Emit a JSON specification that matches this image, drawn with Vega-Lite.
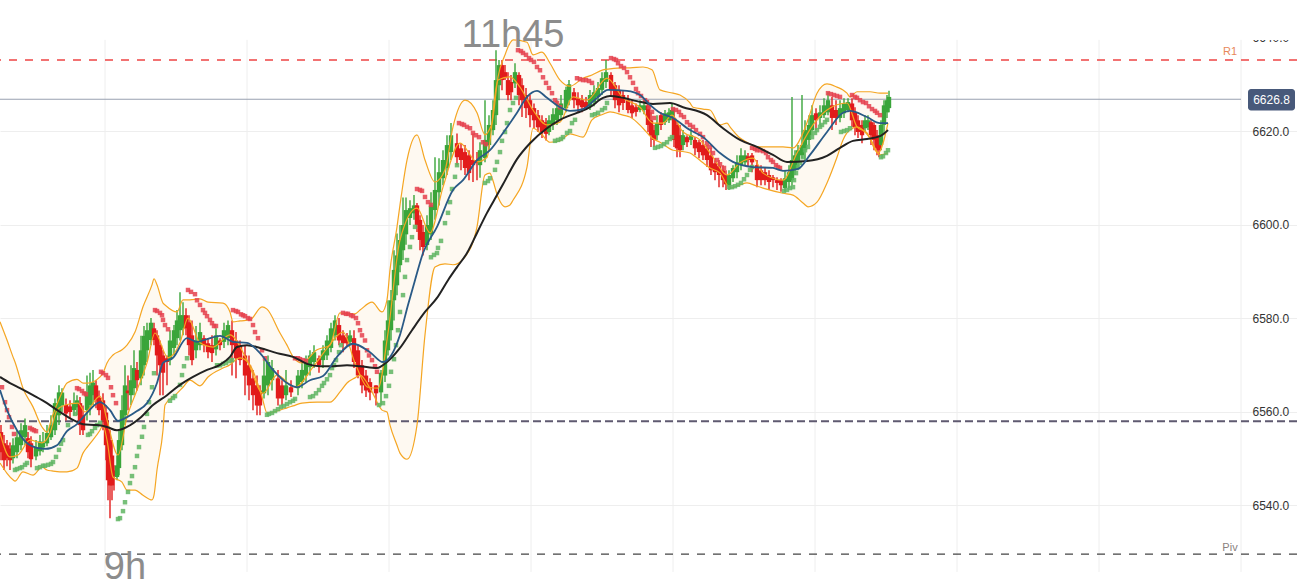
{"$schema":"https://vega.github.io/schema/vega-lite/v6.json","width":1297,"height":587,"autosize":{"type":"none"},"padding":0,"background":"white","config":{"view":{"stroke":null}},
"datasets":{
"mask":[{"a":0,"b":1297,"p":6648.03,"q":6639.47}],
"vgrid":[{"t":105},{"t":247},{"t":389},{"t":531},{"t":673},{"t":815},{"t":957},{"t":1099},{"t":1241}],
"band":[{"t":0,"u":6579.2,"l":6549.0},{"t":7,"u":6575.3,"l":6546.8},{"t":13,"u":6571.7,"l":6545.4},{"t":15,"u":6570.6,"l":6545.1},{"t":23,"u":6565.0,"l":6547.1},{"t":33,"u":6561.0,"l":6546.4},{"t":42,"u":6556.7,"l":6548.1},{"t":47,"u":6555.6,"l":6547.5},{"t":52,"u":6558.8,"l":6547.3},{"t":60,"u":6563.1,"l":6547.1},{"t":67,"u":6566.1,"l":6547.1},{"t":77,"u":6566.9,"l":6547.9},{"t":83,"u":6566.1,"l":6551.1},{"t":88,"u":6566.1,"l":6552.6},{"t":100,"u":6567.4,"l":6556.0},{"t":103,"u":6568.2,"l":6557.1},{"t":107,"u":6570.4,"l":6553.9},{"t":113,"u":6572.1,"l":6546.0},{"t":122,"u":6573.2,"l":6544.9},{"t":127,"u":6574.2,"l":6543.2},{"t":135,"u":6577.0,"l":6543.2},{"t":143,"u":6582.4,"l":6542.1},{"t":152,"u":6587.1,"l":6541.1},{"t":154,"u":6588.4,"l":6542.1},{"t":157,"u":6587.1,"l":6547.5},{"t":163,"u":6583.2,"l":6556.0},{"t":165,"u":6582.8,"l":6561.4},{"t":177,"u":6581.3,"l":6563.9},{"t":183,"u":6583.9,"l":6565.2},{"t":190,"u":6583.9,"l":6566.7},{"t":200,"u":6584.1,"l":6565.5},{"t":208,"u":6583.4,"l":6567.4},{"t":223,"u":6583.2,"l":6569.3},{"t":230,"u":6581.3,"l":6570.0},{"t":233,"u":6579.2,"l":6570.6},{"t":240,"u":6579.4,"l":6571.5},{"t":250,"u":6579.6,"l":6570.0},{"t":262,"u":6582.4,"l":6563.1},{"t":267,"u":6581.9,"l":6559.7},{"t":280,"u":6576.8,"l":6560.3},{"t":287,"u":6574.2,"l":6560.8},{"t":293,"u":6571.7,"l":6561.2},{"t":302,"u":6570.4,"l":6561.8},{"t":317,"u":6573.2,"l":6562.0},{"t":330,"u":6574.2,"l":6562.0},{"t":340,"u":6581.1,"l":6564.2},{"t":347,"u":6580.9,"l":6566.1},{"t":355,"u":6580.9,"l":6567.2},{"t":360,"u":6581.7,"l":6567.8},{"t":372,"u":6583.4,"l":6564.2},{"t":382,"u":6581.3,"l":6560.3},{"t":387,"u":6583.9,"l":6559.9},{"t":390,"u":6590.3,"l":6557.1},{"t":397,"u":6599.5,"l":6552.8},{"t":400,"u":6604.2,"l":6551.1},{"t":407,"u":6613.8,"l":6549.8},{"t":417,"u":6619.2,"l":6557.1},{"t":425,"u":6613.8,"l":6576.4},{"t":435,"u":6609.1,"l":6590.9},{"t":445,"u":6611.7,"l":6591.6},{"t":453,"u":6620.9,"l":6591.4},{"t":465,"u":6626.6,"l":6593.1},{"t":477,"u":6623.9,"l":6599.5},{"t":485,"u":6619.2,"l":6610.6},{"t":490,"u":6620.6,"l":6611.0},{"t":492,"u":6621.7,"l":6610.0},{"t":498,"u":6631.6,"l":6605.9},{"t":505,"u":6636.3,"l":6603.8},{"t":510,"u":6638.8,"l":6604.2},{"t":513,"u":6639.5,"l":6605.2},{"t":527,"u":6639.0,"l":6612.3},{"t":533,"u":6636.3,"l":6620.6},{"t":542,"u":6636.9,"l":6619.2},{"t":550,"u":6634.5,"l":6617.6},{"t":560,"u":6630.9,"l":6617.9},{"t":570,"u":6629.6,"l":6619.4},{"t":583,"u":6631.3,"l":6618.7},{"t":592,"u":6632.0,"l":6622.4},{"t":603,"u":6633.1,"l":6623.6},{"t":610,"u":6633.3,"l":6624.1},{"t":623,"u":6633.5,"l":6623.4},{"t":630,"u":6633.5,"l":6623.0},{"t":643,"u":6633.7,"l":6620.6},{"t":652,"u":6633.1,"l":6618.5},{"t":660,"u":6628.8,"l":6617.6},{"t":673,"u":6628.1,"l":6615.9},{"t":680,"u":6627.7,"l":6615.7},{"t":690,"u":6626.0,"l":6615.3},{"t":693,"u":6625.1,"l":6614.9},{"t":703,"u":6624.7,"l":6613.2},{"t":710,"u":6624.5,"l":6612.1},{"t":720,"u":6621.3,"l":6611.0},{"t":727,"u":6621.7,"l":6608.5},{"t":730,"u":6620.9,"l":6607.8},{"t":740,"u":6618.5,"l":6608.5},{"t":747,"u":6617.6,"l":6608.9},{"t":757,"u":6616.6,"l":6608.2},{"t":763,"u":6616.6,"l":6607.8},{"t":783,"u":6616.6,"l":6606.7},{"t":793,"u":6616.4,"l":6606.3},{"t":803,"u":6619.6,"l":6604.6},{"t":808,"u":6622.4,"l":6603.8},{"t":817,"u":6628.1,"l":6604.8},{"t":827,"u":6630.1,"l":6608.9},{"t":837,"u":6629.4,"l":6614.4},{"t":843,"u":6628.8,"l":6618.1},{"t":847,"u":6628.1,"l":6619.6},{"t":850,"u":6627.3,"l":6620.2},{"t":857,"u":6628.4,"l":6620.9},{"t":870,"u":6628.4,"l":6618.5},{"t":880,"u":6628.1,"l":6614.9},{"t":888,"u":6628.1,"l":6615.3}],
"mid":[{"t":0,"v":6555.4},{"t":10,"v":6550.3},{"t":18,"v":6550.7},{"t":30,"v":6553.9},{"t":42,"v":6553.3},{"t":50,"v":6555.4},{"t":57,"v":6560.3},{"t":65,"v":6561.4},{"t":78,"v":6561.8},{"t":85,"v":6559.9},{"t":100,"v":6563.3},{"t":107,"v":6558.2},{"t":118,"v":6550.7},{"t":127,"v":6558.8},{"t":137,"v":6564.6},{"t":147,"v":6570.4},{"t":155,"v":6576.8},{"t":168,"v":6571.5},{"t":180,"v":6574.7},{"t":188,"v":6580.0},{"t":200,"v":6574.7},{"t":213,"v":6573.8},{"t":230,"v":6576.4},{"t":247,"v":6571.0},{"t":263,"v":6563.9},{"t":277,"v":6567.8},{"t":295,"v":6565.2},{"t":313,"v":6569.5},{"t":328,"v":6573.8},{"t":343,"v":6577.0},{"t":355,"v":6570.4},{"t":368,"v":6565.2},{"t":378,"v":6565.0},{"t":388,"v":6576.8},{"t":400,"v":6596.7},{"t":417,"v":6603.5},{"t":430,"v":6598.2},{"t":443,"v":6608.0},{"t":460,"v":6617.4},{"t":477,"v":6613.4},{"t":487,"v":6614.4},{"t":498,"v":6630.9},{"t":510,"v":6631.6},{"t":520,"v":6629.4},{"t":533,"v":6624.5},{"t":547,"v":6621.3},{"t":560,"v":6621.9},{"t":573,"v":6627.3},{"t":587,"v":6626.6},{"t":607,"v":6631.3},{"t":623,"v":6627.1},{"t":640,"v":6625.1},{"t":653,"v":6621.7},{"t":663,"v":6621.7},{"t":672,"v":6623.4},{"t":683,"v":6619.8},{"t":700,"v":6618.1},{"t":713,"v":6614.4},{"t":727,"v":6610.6},{"t":740,"v":6613.2},{"t":753,"v":6614.2},{"t":763,"v":6611.0},{"t":783,"v":6609.5},{"t":797,"v":6615.3},{"t":813,"v":6621.3},{"t":827,"v":6624.5},{"t":847,"v":6626.0},{"t":857,"v":6620.9},{"t":867,"v":6619.6},{"t":878,"v":6615.3},{"t":888,"v":6621.7}],
"blue":[{"t":0,"v":6564.6},{"t":7,"v":6560.3},{"t":17,"v":6556.0},{"t":30,"v":6552.8},{"t":45,"v":6552.0},{"t":57,"v":6552.8},{"t":67,"v":6555.8},{"t":77,"v":6557.3},{"t":87,"v":6559.7},{"t":100,"v":6562.0},{"t":110,"v":6560.3},{"t":118,"v":6558.0},{"t":127,"v":6558.8},{"t":137,"v":6560.1},{"t":147,"v":6561.8},{"t":157,"v":6566.1},{"t":163,"v":6570.4},{"t":173,"v":6571.5},{"t":187,"v":6575.7},{"t":197,"v":6574.9},{"t":207,"v":6575.5},{"t":220,"v":6576.2},{"t":233,"v":6574.9},{"t":247,"v":6574.7},{"t":260,"v":6572.5},{"t":273,"v":6568.9},{"t":287,"v":6566.1},{"t":297,"v":6565.2},{"t":310,"v":6566.7},{"t":323,"v":6567.6},{"t":337,"v":6571.7},{"t":353,"v":6574.5},{"t":370,"v":6572.7},{"t":383,"v":6570.6},{"t":400,"v":6576.4},{"t":408,"v":6582.8},{"t":415,"v":6588.1},{"t":423,"v":6593.9},{"t":437,"v":6599.5},{"t":453,"v":6607.4},{"t":463,"v":6609.5},{"t":477,"v":6613.8},{"t":490,"v":6615.9},{"t":503,"v":6619.6},{"t":517,"v":6623.9},{"t":527,"v":6627.3},{"t":537,"v":6628.6},{"t":547,"v":6627.1},{"t":560,"v":6625.1},{"t":570,"v":6624.3},{"t":583,"v":6624.7},{"t":597,"v":6627.1},{"t":608,"v":6628.8},{"t":627,"v":6628.6},{"t":640,"v":6627.7},{"t":650,"v":6625.6},{"t":660,"v":6623.9},{"t":673,"v":6622.8},{"t":690,"v":6620.2},{"t":703,"v":6618.7},{"t":720,"v":6615.3},{"t":733,"v":6613.4},{"t":753,"v":6612.3},{"t":773,"v":6612.1},{"t":783,"v":6611.5},{"t":798,"v":6611.9},{"t":810,"v":6614.9},{"t":827,"v":6619.8},{"t":843,"v":6623.9},{"t":850,"v":6624.3},{"t":867,"v":6623.0},{"t":880,"v":6621.7},{"t":888,"v":6621.7}],
"black":[{"t":0,"v":6567.4},{"t":10,"v":6566.1},{"t":20,"v":6565.0},{"t":33,"v":6563.5},{"t":47,"v":6561.8},{"t":60,"v":6559.9},{"t":73,"v":6558.2},{"t":83,"v":6557.3},{"t":97,"v":6557.1},{"t":107,"v":6556.7},{"t":117,"v":6556.0},{"t":127,"v":6556.7},{"t":140,"v":6558.6},{"t":153,"v":6561.4},{"t":167,"v":6563.5},{"t":180,"v":6565.7},{"t":193,"v":6567.4},{"t":207,"v":6568.9},{"t":220,"v":6570.0},{"t":230,"v":6571.7},{"t":237,"v":6573.8},{"t":247,"v":6574.2},{"t":260,"v":6573.6},{"t":277,"v":6572.5},{"t":293,"v":6571.7},{"t":307,"v":6570.2},{"t":320,"v":6569.7},{"t":333,"v":6569.7},{"t":347,"v":6569.9},{"t":360,"v":6569.7},{"t":377,"v":6569.3},{"t":387,"v":6570.6},{"t":400,"v":6573.6},{"t":412,"v":6577.4},{"t":425,"v":6581.3},{"t":437,"v":6584.3},{"t":448,"v":6588.1},{"t":457,"v":6590.9},{"t":467,"v":6593.9},{"t":477,"v":6598.2},{"t":487,"v":6602.5},{"t":497,"v":6606.3},{"t":503,"v":6608.6},{"t":517,"v":6614.0},{"t":530,"v":6617.4},{"t":547,"v":6620.6},{"t":560,"v":6622.4},{"t":577,"v":6623.9},{"t":590,"v":6625.1},{"t":603,"v":6627.1},{"t":610,"v":6627.5},{"t":623,"v":6627.1},{"t":637,"v":6626.4},{"t":653,"v":6625.8},{"t":670,"v":6626.0},{"t":683,"v":6625.1},{"t":707,"v":6623.4},{"t":723,"v":6620.6},{"t":740,"v":6618.1},{"t":757,"v":6616.6},{"t":773,"v":6614.9},{"t":787,"v":6613.4},{"t":807,"v":6613.6},{"t":827,"v":6614.7},{"t":840,"v":6616.4},{"t":853,"v":6617.9},{"t":867,"v":6618.3},{"t":880,"v":6618.9},{"t":888,"v":6620.2}],
"sarRed":[{"t":2,"v":6565.2},{"t":5,"v":6562.0},{"t":7,"v":6560.3},{"t":9,"v":6558.8},{"t":12,"v":6556.7},{"t":14,"v":6555.2},{"t":30,"v":6556.5},{"t":32,"v":6556.2},{"t":34,"v":6556.0},{"t":36,"v":6555.8},{"t":77,"v":6565.0},{"t":79,"v":6564.8},{"t":82,"v":6564.4},{"t":84,"v":6563.9},{"t":86,"v":6563.7},{"t":101,"v":6568.5},{"t":103,"v":6568.2},{"t":106,"v":6567.8},{"t":108,"v":6567.2},{"t":111,"v":6565.2},{"t":113,"v":6563.5},{"t":116,"v":6561.8},{"t":155,"v":6581.7},{"t":157,"v":6581.5},{"t":160,"v":6581.1},{"t":162,"v":6580.6},{"t":163,"v":6579.6},{"t":165,"v":6578.5},{"t":168,"v":6577.6},{"t":188,"v":6586.0},{"t":191,"v":6585.6},{"t":195,"v":6585.1},{"t":197,"v":6583.8},{"t":200,"v":6582.8},{"t":203,"v":6581.7},{"t":205,"v":6581.1},{"t":207,"v":6580.4},{"t":210,"v":6579.6},{"t":212,"v":6578.9},{"t":214,"v":6578.3},{"t":216,"v":6578.3},{"t":233,"v":6581.7},{"t":236,"v":6581.5},{"t":238,"v":6581.3},{"t":241,"v":6580.8},{"t":243,"v":6580.6},{"t":245,"v":6580.4},{"t":248,"v":6580.0},{"t":250,"v":6579.8},{"t":253,"v":6578.5},{"t":255,"v":6577.0},{"t":258,"v":6575.7},{"t":262,"v":6573.1},{"t":265,"v":6571.4},{"t":295,"v":6571.4},{"t":298,"v":6571.4},{"t":300,"v":6571.2},{"t":303,"v":6571.0},{"t":306,"v":6570.8},{"t":343,"v":6581.1},{"t":346,"v":6580.9},{"t":348,"v":6580.9},{"t":351,"v":6580.6},{"t":353,"v":6580.4},{"t":356,"v":6580.0},{"t":358,"v":6578.9},{"t":360,"v":6577.4},{"t":362,"v":6576.3},{"t":365,"v":6575.2},{"t":367,"v":6573.1},{"t":369,"v":6572.0},{"t":372,"v":6571.0},{"t":375,"v":6569.7},{"t":377,"v":6568.5},{"t":417,"v":6607.6},{"t":420,"v":6607.4},{"t":422,"v":6607.2},{"t":425,"v":6605.9},{"t":428,"v":6604.8},{"t":431,"v":6604.2},{"t":459,"v":6621.7},{"t":462,"v":6621.5},{"t":464,"v":6621.3},{"t":467,"v":6620.9},{"t":470,"v":6620.6},{"t":473,"v":6619.6},{"t":476,"v":6619.1},{"t":479,"v":6618.7},{"t":483,"v":6617.6},{"t":486,"v":6617.2},{"t":518,"v":6637.3},{"t":521,"v":6637.1},{"t":523,"v":6636.7},{"t":526,"v":6636.3},{"t":529,"v":6635.6},{"t":531,"v":6635.2},{"t":534,"v":6634.8},{"t":537,"v":6633.7},{"t":540,"v":6633.0},{"t":543,"v":6631.5},{"t":546,"v":6630.3},{"t":549,"v":6629.2},{"t":552,"v":6628.1},{"t":555,"v":6626.6},{"t":557,"v":6626.0},{"t":560,"v":6625.1},{"t":577,"v":6631.3},{"t":580,"v":6631.1},{"t":583,"v":6630.9},{"t":586,"v":6630.9},{"t":589,"v":6630.7},{"t":592,"v":6630.3},{"t":611,"v":6635.6},{"t":614,"v":6635.4},{"t":616,"v":6635.2},{"t":618,"v":6634.5},{"t":621,"v":6633.9},{"t":624,"v":6633.5},{"t":627,"v":6632.6},{"t":630,"v":6631.5},{"t":633,"v":6630.3},{"t":636,"v":6629.0},{"t":638,"v":6628.1},{"t":641,"v":6627.5},{"t":645,"v":6626.6},{"t":647,"v":6626.2},{"t":649,"v":6625.1},{"t":652,"v":6624.1},{"t":654,"v":6622.8},{"t":673,"v":6624.7},{"t":676,"v":6624.5},{"t":679,"v":6624.1},{"t":681,"v":6623.4},{"t":684,"v":6623.0},{"t":687,"v":6621.9},{"t":690,"v":6621.3},{"t":693,"v":6620.9},{"t":696,"v":6620.2},{"t":700,"v":6619.4},{"t":703,"v":6618.7},{"t":707,"v":6617.4},{"t":710,"v":6616.6},{"t":713,"v":6615.3},{"t":717,"v":6613.8},{"t":720,"v":6612.9},{"t":724,"v":6612.1},{"t":752,"v":6616.4},{"t":755,"v":6616.2},{"t":757,"v":6615.9},{"t":760,"v":6615.9},{"t":763,"v":6615.7},{"t":766,"v":6615.3},{"t":768,"v":6614.4},{"t":771,"v":6613.8},{"t":773,"v":6613.4},{"t":776,"v":6612.7},{"t":778,"v":6612.3},{"t":780,"v":6612.1},{"t":828,"v":6628.1},{"t":831,"v":6627.9},{"t":834,"v":6627.7},{"t":837,"v":6627.5},{"t":840,"v":6627.3},{"t":852,"v":6627.7},{"t":855,"v":6627.3},{"t":857,"v":6627.1},{"t":860,"v":6626.6},{"t":863,"v":6626.2},{"t":866,"v":6626.0},{"t":869,"v":6625.3},{"t":872,"v":6624.7},{"t":875,"v":6624.3},{"t":877,"v":6623.9},{"t":880,"v":6623.4}],
"sarGreen":[{"t":15,"v":6547.5},{"t":17,"v":6547.7},{"t":20,"v":6547.9},{"t":22,"v":6548.1},{"t":25,"v":6548.6},{"t":27,"v":6549.0},{"t":37,"v":6547.9},{"t":40,"v":6548.1},{"t":43,"v":6548.4},{"t":45,"v":6548.4},{"t":48,"v":6548.6},{"t":51,"v":6548.8},{"t":53,"v":6549.2},{"t":56,"v":6550.3},{"t":59,"v":6551.8},{"t":61,"v":6553.1},{"t":63,"v":6553.9},{"t":68,"v":6557.1},{"t":75,"v":6559.5},{"t":88,"v":6555.0},{"t":90,"v":6555.2},{"t":92,"v":6555.8},{"t":95,"v":6556.5},{"t":97,"v":6557.1},{"t":100,"v":6557.6},{"t":118,"v":6537.0},{"t":120,"v":6537.2},{"t":123,"v":6538.7},{"t":125,"v":6540.6},{"t":128,"v":6542.8},{"t":130,"v":6544.7},{"t":132,"v":6546.2},{"t":135,"v":6548.1},{"t":137,"v":6550.5},{"t":139,"v":6552.4},{"t":142,"v":6554.6},{"t":144,"v":6556.7},{"t":147,"v":6559.5},{"t":149,"v":6562.0},{"t":152,"v":6565.2},{"t":154,"v":6568.2},{"t":170,"v":6562.3},{"t":173,"v":6562.9},{"t":175,"v":6563.3},{"t":180,"v":6565.7},{"t":182,"v":6567.8},{"t":184,"v":6569.7},{"t":187,"v":6571.4},{"t":217,"v":6569.9},{"t":220,"v":6569.9},{"t":223,"v":6570.2},{"t":226,"v":6570.4},{"t":229,"v":6570.8},{"t":232,"v":6571.0},{"t":267,"v":6559.3},{"t":269,"v":6559.5},{"t":272,"v":6559.7},{"t":275,"v":6560.1},{"t":278,"v":6560.5},{"t":281,"v":6561.0},{"t":284,"v":6561.2},{"t":287,"v":6561.6},{"t":290,"v":6562.0},{"t":293,"v":6562.3},{"t":295,"v":6562.7},{"t":310,"v":6563.1},{"t":313,"v":6563.3},{"t":316,"v":6563.9},{"t":319,"v":6564.6},{"t":322,"v":6565.5},{"t":324,"v":6566.1},{"t":327,"v":6566.9},{"t":330,"v":6567.8},{"t":332,"v":6569.3},{"t":334,"v":6569.9},{"t":336,"v":6571.0},{"t":339,"v":6572.7},{"t":341,"v":6574.2},{"t":379,"v":6561.4},{"t":383,"v":6561.8},{"t":386,"v":6563.3},{"t":389,"v":6565.5},{"t":391,"v":6568.5},{"t":394,"v":6571.2},{"t":396,"v":6574.2},{"t":398,"v":6577.4},{"t":400,"v":6581.3},{"t":403,"v":6584.9},{"t":405,"v":6588.8},{"t":407,"v":6592.4},{"t":410,"v":6595.2},{"t":412,"v":6597.3},{"t":415,"v":6599.5},{"t":431,"v":6593.0},{"t":434,"v":6593.5},{"t":437,"v":6593.9},{"t":438,"v":6595.0},{"t":441,"v":6596.5},{"t":445,"v":6600.3},{"t":448,"v":6602.5},{"t":450,"v":6604.8},{"t":452,"v":6607.6},{"t":455,"v":6610.2},{"t":457,"v":6612.7},{"t":485,"v":6608.9},{"t":488,"v":6609.3},{"t":490,"v":6609.9},{"t":495,"v":6611.7},{"t":497,"v":6613.4},{"t":500,"v":6615.5},{"t":502,"v":6617.9},{"t":505,"v":6619.8},{"t":507,"v":6621.7},{"t":510,"v":6624.5},{"t":513,"v":6626.0},{"t":516,"v":6627.1},{"t":555,"v":6617.9},{"t":558,"v":6618.1},{"t":561,"v":6618.3},{"t":563,"v":6618.7},{"t":567,"v":6619.6},{"t":570,"v":6620.0},{"t":572,"v":6621.7},{"t":575,"v":6622.4},{"t":592,"v":6623.4},{"t":595,"v":6623.6},{"t":598,"v":6623.9},{"t":602,"v":6624.5},{"t":605,"v":6624.9},{"t":607,"v":6626.0},{"t":655,"v":6616.4},{"t":658,"v":6616.6},{"t":661,"v":6616.8},{"t":664,"v":6617.2},{"t":667,"v":6617.6},{"t":670,"v":6618.3},{"t":672,"v":6618.7},{"t":729,"v":6608.0},{"t":732,"v":6608.0},{"t":735,"v":6608.2},{"t":738,"v":6608.5},{"t":741,"v":6608.9},{"t":744,"v":6609.7},{"t":747,"v":6610.6},{"t":750,"v":6611.7},{"t":752,"v":6612.3},{"t":784,"v":6607.2},{"t":787,"v":6607.4},{"t":790,"v":6607.8},{"t":793,"v":6608.0},{"t":794,"v":6609.5},{"t":796,"v":6611.0},{"t":798,"v":6612.3},{"t":800,"v":6613.2},{"t":803,"v":6614.4},{"t":805,"v":6615.9},{"t":808,"v":6616.6},{"t":812,"v":6618.7},{"t":815,"v":6619.6},{"t":817,"v":6620.2},{"t":820,"v":6620.9},{"t":822,"v":6621.3},{"t":825,"v":6621.9},{"t":827,"v":6622.4},{"t":841,"v":6619.8},{"t":844,"v":6620.0},{"t":847,"v":6620.2},{"t":850,"v":6620.6},{"t":881,"v":6614.4},{"t":883,"v":6614.6},{"t":886,"v":6615.3},{"t":888,"v":6615.9}],
"candles":[{"t":1,"d":"d","h":6557.1,"o":6555.6,"c":6551.3,"l":6549.6},{"t":4,"d":"d","h":6555.0,"o":6553.2,"c":6549.6,"l":6547.5},{"t":7,"d":"d","h":6553.9,"o":6552.8,"c":6550.0,"l":6548.3},{"t":10,"d":"d","h":6553.4,"o":6552.1,"c":6549.6,"l":6547.5},{"t":13,"d":"u","h":6554.3,"c":6552.8,"o":6550.0,"l":6548.9},{"t":17,"d":"u","h":6556.0,"c":6554.5,"o":6551.3,"l":6550.0},{"t":21,"d":"u","h":6557.5,"c":6556.0,"o":6552.8,"l":6551.7},{"t":25,"d":"u","h":6558.5,"c":6557.1,"o":6554.5,"l":6552.8},{"t":28,"d":"d","h":6555.6,"o":6554.3,"c":6551.3,"l":6550.0},{"t":31,"d":"d","h":6554.7,"o":6553.2,"c":6549.8,"l":6548.1},{"t":36,"d":"u","h":6553.9,"c":6552.3,"o":6550.4,"l":6549.6},{"t":40,"d":"u","h":6555.0,"c":6553.6,"o":6551.5,"l":6550.6},{"t":43,"d":"u","h":6555.6,"c":6553.4,"o":6552.3,"l":6551.3},{"t":47,"d":"u","h":6557.1,"c":6555.4,"o":6553.2,"l":6552.6},{"t":51,"d":"u","h":6559.2,"c":6557.1,"o":6554.5,"l":6553.9},{"t":55,"d":"u","h":6562.8,"c":6561.8,"o":6556.0,"l":6555.0},{"t":59,"d":"u","h":6565.6,"c":6564.1,"o":6559.2,"l":6557.1},{"t":62,"d":"u","h":6565.0,"c":6564.1,"o":6561.4,"l":6559.9},{"t":66,"d":"d","h":6562.8,"o":6561.4,"c":6559.6,"l":6558.1},{"t":70,"d":"d","h":6562.4,"o":6561.1,"c":6559.9,"l":6558.5},{"t":74,"d":"u","h":6564.1,"c":6561.8,"o":6560.3,"l":6559.2},{"t":77,"d":"u","h":6563.5,"c":6562.4,"o":6560.9,"l":6559.2},{"t":80,"d":"d","h":6563.1,"o":6561.8,"c":6557.1,"l":6555.0},{"t":83,"d":"d","h":6561.3,"o":6559.2,"c":6556.0,"l":6555.0},{"t":87,"d":"u","h":6567.7,"c":6563.5,"o":6560.3,"l":6558.1},{"t":90,"d":"u","h":6568.3,"c":6565.6,"o":6561.4,"l":6559.2},{"t":93,"d":"u","h":6568.9,"c":6566.2,"o":6563.5,"l":6561.4},{"t":96,"d":"d","h":6566.7,"o":6565.6,"c":6562.4,"l":6560.7},{"t":99,"d":"d","h":6564.5,"o":6563.0,"c":6560.3,"l":6559.2},{"t":103,"d":"d","h":6563.9,"o":6562.4,"c":6558.1,"l":6556.0},{"t":106,"d":"d","h":6561.3,"o":6559.8,"c":6552.8,"l":6549.6},{"t":108,"d":"d","h":6558.1,"o":6556.0,"c":6545.3,"l":6541.0},{"t":110,"d":"d","h":6556.0,"o":6553.9,"c":6544.2,"l":6537.2},{"t":112,"d":"d","h":6553.9,"o":6550.6,"c":6544.2,"l":6541.0},{"t":114,"d":"d","h":6548.5,"o":6547.4,"c":6546.2,"l":6543.1},{"t":117,"d":"u","h":6550.6,"c":6548.5,"o":6546.0,"l":6545.3},{"t":119,"d":"u","h":6556.0,"c":6553.9,"o":6547.9,"l":6546.4},{"t":122,"d":"u","h":6563.5,"c":6560.3,"o":6552.8,"l":6551.7},{"t":125,"d":"u","h":6569.9,"c":6565.6,"o":6559.2,"l":6557.1},{"t":128,"d":"d","h":6567.7,"o":6564.5,"c":6563.9,"l":6560.3},{"t":131,"d":"u","h":6569.9,"c":6566.7,"o":6563.5,"l":6561.4},{"t":134,"d":"u","h":6573.1,"c":6569.3,"o":6565.0,"l":6563.5},{"t":137,"d":"d","h":6570.6,"o":6568.9,"c":6566.7,"l":6564.5},{"t":141,"d":"u","h":6576.2,"c":6573.1,"o":6567.1,"l":6565.6},{"t":144,"d":"u","h":6578.3,"c":6576.2,"o":6569.9,"l":6567.7},{"t":147,"d":"u","h":6579.0,"c":6577.4,"o":6573.1,"l":6570.6},{"t":151,"d":"u","h":6580.0,"c":6579.0,"o":6575.3,"l":6574.2},{"t":154,"d":"d","h":6579.0,"o":6577.8,"c":6575.3,"l":6574.2},{"t":157,"d":"d","h":6577.4,"o":6576.3,"c":6572.0,"l":6567.7},{"t":160,"d":"d","h":6575.2,"o":6574.2,"c":6569.9,"l":6563.5},{"t":163,"d":"d","h":6573.1,"o":6572.0,"c":6568.3,"l":6563.5},{"t":167,"d":"d","h":6572.0,"o":6571.4,"c":6570.6,"l":6565.6},{"t":170,"d":"u","h":6577.4,"c":6575.2,"o":6571.0,"l":6569.9},{"t":174,"d":"u","h":6578.5,"c":6577.4,"o":6573.6,"l":6572.0},{"t":177,"d":"u","h":6581.7,"c":6579.5,"o":6575.7,"l":6574.2},{"t":180,"d":"u","h":6585.5,"c":6580.6,"o":6577.4,"l":6575.2},{"t":183,"d":"u","h":6583.4,"c":6580.6,"o":6577.8,"l":6576.3},{"t":186,"d":"d","h":6582.1,"o":6580.6,"c":6577.8,"l":6576.3},{"t":189,"d":"d","h":6580.6,"o":6579.1,"c":6574.2,"l":6572.0},{"t":192,"d":"d","h":6579.5,"o":6576.3,"c":6571.0,"l":6569.9},{"t":196,"d":"u","h":6578.3,"c":6575.2,"o":6573.1,"l":6571.4},{"t":200,"d":"u","h":6579.0,"c":6577.0,"o":6574.2,"l":6573.1},{"t":204,"d":"d","h":6576.3,"o":6575.7,"c":6574.2,"l":6572.7},{"t":208,"d":"d","h":6575.7,"o":6574.6,"c":6572.7,"l":6571.4},{"t":212,"d":"d","h":6576.3,"o":6574.2,"c":6572.5,"l":6570.6},{"t":216,"d":"u","h":6577.8,"c":6576.3,"o":6573.3,"l":6572.0},{"t":220,"d":"d","h":6575.7,"o":6575.2,"c":6574.2,"l":6573.1},{"t":224,"d":"u","h":6579.0,"c":6577.4,"o":6574.9,"l":6573.6},{"t":228,"d":"u","h":6579.5,"c":6578.5,"o":6575.7,"l":6574.2},{"t":232,"d":"d","h":6579.5,"o":6577.4,"c":6574.2,"l":6567.7},{"t":236,"d":"d","h":6577.0,"o":6575.2,"c":6571.4,"l":6567.1},{"t":240,"d":"d","h":6575.2,"o":6574.2,"c":6571.0,"l":6569.9},{"t":245,"d":"d","h":6574.2,"o":6572.0,"c":6567.7,"l":6563.5},{"t":249,"d":"d","h":6572.0,"o":6569.9,"c":6565.6,"l":6562.4},{"t":253,"d":"d","h":6568.9,"o":6567.1,"c":6563.5,"l":6560.3},{"t":257,"d":"d","h":6567.7,"o":6565.6,"c":6561.3,"l":6559.2},{"t":260,"d":"d","h":6565.6,"o":6564.5,"c":6561.3,"l":6559.2},{"t":264,"d":"u","h":6571.0,"c":6567.7,"o":6563.9,"l":6562.8},{"t":268,"d":"u","h":6572.0,"c":6570.6,"o":6565.6,"l":6563.5},{"t":272,"d":"u","h":6571.0,"c":6569.3,"o":6566.7,"l":6564.5},{"t":278,"d":"d","h":6568.9,"o":6567.1,"c":6562.8,"l":6561.3},{"t":282,"d":"d","h":6566.7,"o":6565.6,"c":6562.8,"l":6561.3},{"t":286,"d":"u","h":6568.9,"c":6565.6,"o":6563.5,"l":6562.4},{"t":291,"d":"d","h":6566.7,"o":6565.2,"c":6564.1,"l":6563.1},{"t":298,"d":"u","h":6568.9,"c":6567.7,"o":6565.0,"l":6563.5},{"t":302,"d":"u","h":6570.6,"c":6568.9,"o":6566.3,"l":6565.0},{"t":306,"d":"u","h":6572.0,"c":6570.6,"o":6567.7,"l":6566.3},{"t":310,"d":"u","h":6573.1,"c":6572.0,"o":6569.5,"l":6567.7},{"t":314,"d":"u","h":6574.2,"c":6572.7,"o":6570.6,"l":6569.3},{"t":319,"d":"d","h":6572.0,"o":6571.4,"c":6569.9,"l":6568.3},{"t":323,"d":"u","h":6574.2,"c":6573.1,"o":6571.0,"l":6569.3},{"t":327,"d":"u","h":6576.3,"c":6575.2,"o":6572.0,"l":6571.0},{"t":331,"d":"u","h":6579.0,"c":6577.8,"o":6573.6,"l":6572.7},{"t":335,"d":"u","h":6580.6,"c":6579.5,"o":6576.3,"l":6575.2},{"t":339,"d":"d","h":6580.0,"o":6578.5,"c":6575.2,"l":6574.2},{"t":343,"d":"d","h":6577.4,"o":6576.3,"c":6574.6,"l":6572.7},{"t":347,"d":"d","h":6576.8,"o":6575.9,"c":6574.6,"l":6573.8},{"t":350,"d":"u","h":6577.4,"c":6576.3,"o":6574.9,"l":6574.2},{"t":354,"d":"d","h":6577.4,"o":6575.7,"c":6570.6,"l":6569.3},{"t":358,"d":"d","h":6574.2,"o":6573.1,"c":6567.7,"l":6567.1},{"t":362,"d":"d","h":6571.0,"o":6569.9,"c":6565.6,"l":6563.9},{"t":366,"d":"d","h":6568.9,"o":6567.7,"c":6564.5,"l":6563.1},{"t":370,"d":"d","h":6567.1,"o":6566.3,"c":6564.1,"l":6562.4},{"t":376,"d":"d","h":6565.6,"o":6565.6,"c":6563.9,"l":6561.3},{"t":381,"d":"u","h":6568.9,"c":6568.3,"o":6564.1,"l":6561.3},{"t":385,"d":"u","h":6577.4,"c":6575.2,"o":6567.7,"l":6566.3},{"t":388,"d":"u","h":6583.8,"c":6579.5,"o":6573.1,"l":6572.0},{"t":391,"d":"u","h":6586.0,"c":6583.8,"o":6577.4,"l":6575.2},{"t":394,"d":"u","h":6594.5,"c":6590.3,"o":6583.8,"l":6579.5},{"t":397,"d":"u","h":6598.1,"c":6593.4,"o":6587.0,"l":6584.9},{"t":400,"d":"u","h":6599.9,"c":6596.7,"o":6591.3,"l":6589.8},{"t":403,"d":"u","h":6605.8,"c":6599.9,"o":6594.5,"l":6592.4},{"t":406,"d":"u","h":6605.8,"c":6603.1,"o":6597.9,"l":6595.7},{"t":410,"d":"u","h":6605.2,"c":6603.5,"o":6601.4,"l":6599.9},{"t":414,"d":"u","h":6606.3,"c":6604.1,"o":6602.4,"l":6601.0},{"t":417,"d":"d","h":6604.6,"o":6604.1,"c":6599.9,"l":6598.4},{"t":420,"d":"d","h":6602.0,"o":6601.0,"c":6596.7,"l":6594.5},{"t":423,"d":"d","h":6599.9,"o":6598.4,"c":6595.2,"l":6593.4},{"t":427,"d":"u","h":6602.0,"c":6599.9,"o":6595.6,"l":6594.5},{"t":431,"d":"u","h":6606.9,"c":6604.1,"o":6597.9,"l":6596.7},{"t":435,"d":"u","h":6614.4,"c":6607.4,"o":6603.1,"l":6601.0},{"t":439,"d":"u","h":6614.2,"c":6611.2,"o":6606.9,"l":6604.1},{"t":443,"d":"u","h":6615.9,"c":6613.8,"o":6609.9,"l":6608.4},{"t":447,"d":"u","h":6619.1,"c":6617.0,"o":6612.1,"l":6610.6},{"t":451,"d":"u","h":6621.7,"c":6619.1,"o":6615.5,"l":6613.8},{"t":457,"d":"d","h":6619.5,"o":6617.4,"c":6614.4,"l":6612.7},{"t":461,"d":"d","h":6617.4,"o":6616.3,"c":6613.8,"l":6611.6},{"t":465,"d":"d","h":6617.0,"o":6615.5,"c":6612.1,"l":6610.6},{"t":469,"d":"d","h":6615.9,"o":6614.8,"c":6611.0,"l":6609.5},{"t":473,"d":"d","h":6619.5,"o":6613.8,"c":6612.7,"l":6609.1},{"t":477,"d":"d","h":6615.5,"o":6613.8,"c":6613.2,"l":6609.5},{"t":480,"d":"u","h":6617.6,"c":6615.9,"o":6612.7,"l":6610.0},{"t":485,"d":"u","h":6626.6,"c":6618.1,"o":6614.2,"l":6613.3},{"t":489,"d":"u","h":6623.4,"c":6621.3,"o":6617.0,"l":6615.9},{"t":493,"d":"u","h":6626.6,"c":6624.5,"o":6620.2,"l":6619.1},{"t":496,"d":"u","h":6637.3,"c":6630.9,"o":6623.4,"l":6621.3},{"t":499,"d":"u","h":6635.2,"c":6634.1,"o":6629.8,"l":6626.6},{"t":502,"d":"d","h":6635.2,"o":6634.1,"c":6630.9,"l":6628.7},{"t":505,"d":"d","h":6634.1,"o":6632.6,"c":6631.3,"l":6630.9},{"t":508,"d":"d","h":6632.6,"o":6630.9,"c":6627.7,"l":6626.6},{"t":511,"d":"d","h":6632.0,"o":6630.5,"c":6628.3,"l":6626.6},{"t":515,"d":"u","h":6634.5,"c":6632.6,"o":6630.2,"l":6629.2},{"t":519,"d":"d","h":6632.6,"o":6632.0,"c":6627.7,"l":6625.5},{"t":522,"d":"d","h":6631.3,"o":6629.8,"c":6626.6,"l":6623.0},{"t":526,"d":"d","h":6629.2,"o":6627.7,"c":6624.9,"l":6622.8},{"t":530,"d":"d","h":6627.7,"o":6626.6,"c":6623.4,"l":6620.8},{"t":534,"d":"d","h":6625.9,"o":6624.9,"c":6622.3,"l":6620.6},{"t":538,"d":"d","h":6624.5,"o":6623.4,"c":6620.8,"l":6619.8},{"t":542,"d":"d","h":6623.4,"o":6622.3,"c":6619.8,"l":6618.5},{"t":546,"d":"d","h":6622.8,"o":6621.9,"c":6619.4,"l":6618.0},{"t":549,"d":"u","h":6623.4,"c":6622.3,"o":6619.8,"l":6619.1},{"t":553,"d":"u","h":6624.9,"c":6623.6,"o":6621.3,"l":6620.2},{"t":557,"d":"u","h":6626.6,"c":6624.9,"o":6622.3,"l":6621.3},{"t":561,"d":"u","h":6627.7,"c":6625.9,"o":6623.4,"l":6622.3},{"t":566,"d":"u","h":6629.5,"c":6628.8,"o":6624.9,"l":6624.0},{"t":569,"d":"u","h":6630.9,"c":6630.0,"o":6626.6,"l":6625.5},{"t":574,"d":"d","h":6629.2,"o":6628.3,"c":6626.6,"l":6624.9},{"t":578,"d":"d","h":6628.3,"o":6627.0,"c":6625.5,"l":6624.0},{"t":582,"d":"d","h":6627.7,"o":6626.6,"c":6625.1,"l":6624.0},{"t":586,"d":"d","h":6627.3,"o":6626.2,"c":6624.9,"l":6624.5},{"t":590,"d":"u","h":6628.8,"c":6627.7,"o":6625.3,"l":6624.5},{"t":594,"d":"u","h":6629.8,"c":6628.3,"o":6626.2,"l":6625.3},{"t":598,"d":"u","h":6630.5,"c":6629.2,"o":6627.3,"l":6626.6},{"t":602,"d":"u","h":6632.6,"c":6631.3,"o":6628.8,"l":6627.7},{"t":606,"d":"u","h":6635.2,"c":6632.6,"o":6630.5,"l":6629.2},{"t":611,"d":"d","h":6632.6,"o":6632.0,"c":6628.8,"l":6627.3},{"t":615,"d":"d","h":6630.5,"o":6629.8,"c":6626.6,"l":6624.9},{"t":619,"d":"d","h":6629.8,"o":6628.8,"c":6625.5,"l":6624.0},{"t":623,"d":"d","h":6628.8,"o":6627.7,"c":6626.0,"l":6624.5},{"t":628,"d":"d","h":6627.7,"o":6626.6,"c":6624.5,"l":6623.8},{"t":632,"d":"d","h":6626.6,"o":6625.5,"c":6623.8,"l":6622.8},{"t":636,"d":"d","h":6625.9,"o":6625.1,"c":6624.1,"l":6623.1},{"t":640,"d":"u","h":6626.6,"c":6625.5,"o":6624.5,"l":6624.0},{"t":644,"d":"u","h":6626.6,"c":6625.5,"o":6624.5,"l":6623.6},{"t":648,"d":"d","h":6626.6,"o":6625.5,"c":6621.3,"l":6619.8},{"t":651,"d":"d","h":6624.0,"o":6622.3,"c":6619.1,"l":6616.6},{"t":654,"d":"d","h":6621.3,"o":6620.2,"c":6618.1,"l":6616.6},{"t":657,"d":"u","h":6623.4,"c":6621.7,"o":6619.1,"l":6618.1},{"t":661,"d":"d","h":6624.0,"o":6623.4,"c":6621.3,"l":6620.2},{"t":665,"d":"u","h":6624.5,"c":6623.8,"o":6621.9,"l":6621.3},{"t":669,"d":"u","h":6624.9,"c":6624.0,"o":6622.3,"l":6621.7},{"t":672,"d":"u","h":6625.9,"c":6624.5,"o":6623.0,"l":6622.3},{"t":674,"d":"d","h":6624.9,"o":6622.8,"c":6618.1,"l":6616.6},{"t":677,"d":"d","h":6622.3,"o":6621.3,"c":6616.3,"l":6614.4},{"t":680,"d":"d","h":6621.3,"o":6619.1,"c":6615.9,"l":6614.4},{"t":683,"d":"u","h":6620.2,"c":6619.1,"o":6617.0,"l":6615.9},{"t":687,"d":"d","h":6619.1,"o":6618.7,"c":6617.6,"l":6616.6},{"t":691,"d":"u","h":6620.6,"c":6619.1,"o":6618.1,"l":6617.0},{"t":695,"d":"d","h":6618.7,"o":6618.1,"c":6616.3,"l":6614.8},{"t":699,"d":"d","h":6618.1,"o":6617.6,"c":6615.5,"l":6614.2},{"t":703,"d":"d","h":6618.1,"o":6617.0,"c":6614.8,"l":6613.8},{"t":707,"d":"d","h":6617.0,"o":6616.3,"c":6613.8,"l":6612.3},{"t":711,"d":"d","h":6616.3,"o":6614.8,"c":6611.6,"l":6610.6},{"t":715,"d":"d","h":6614.2,"o":6613.1,"c":6611.2,"l":6609.5},{"t":719,"d":"d","h":6613.8,"o":6612.5,"c":6610.6,"l":6608.0},{"t":723,"d":"d","h":6612.7,"o":6611.6,"c":6609.5,"l":6608.0},{"t":726,"d":"d","h":6611.6,"o":6610.6,"c":6608.6,"l":6607.4},{"t":729,"d":"u","h":6611.6,"c":6610.6,"o":6608.4,"l":6607.4},{"t":733,"d":"u","h":6612.7,"c":6612.1,"o":6609.9,"l":6609.1},{"t":737,"d":"u","h":6614.8,"c":6613.3,"o":6611.2,"l":6609.9},{"t":741,"d":"u","h":6616.3,"c":6614.8,"o":6612.7,"l":6611.6},{"t":745,"d":"u","h":6615.9,"c":6614.8,"o":6613.3,"l":6612.7},{"t":748,"d":"d","h":6615.3,"o":6614.6,"c":6613.8,"l":6612.5},{"t":752,"d":"d","h":6615.3,"o":6614.8,"c":6613.3,"l":6611.2},{"t":757,"d":"d","h":6613.8,"o":6612.7,"c":6609.5,"l":6608.0},{"t":761,"d":"d","h":6612.7,"o":6611.6,"c":6609.5,"l":6608.4},{"t":765,"d":"d","h":6612.1,"o":6611.2,"c":6609.5,"l":6608.4},{"t":769,"d":"d","h":6611.6,"o":6610.6,"c":6609.1,"l":6607.4},{"t":773,"d":"d","h":6610.6,"o":6610.1,"c":6609.5,"l":6608.0},{"t":777,"d":"d","h":6610.1,"o":6609.5,"c":6608.9,"l":6607.4},{"t":781,"d":"d","h":6609.9,"o":6609.5,"c":6608.4,"l":6607.0},{"t":785,"d":"u","h":6611.6,"c":6609.9,"o":6607.8,"l":6607.0},{"t":789,"d":"u","h":6612.7,"c":6611.2,"o":6609.1,"l":6607.8},{"t":792,"d":"u","h":6627.3,"c":6613.8,"o":6609.5,"l":6608.4},{"t":795,"d":"u","h":6615.9,"c":6614.8,"o":6611.6,"l":6610.6},{"t":798,"d":"u","h":6617.0,"c":6615.9,"o":6613.3,"l":6611.6},{"t":802,"d":"u","h":6627.7,"c":6617.0,"o":6614.8,"l":6614.2},{"t":805,"d":"u","h":6622.3,"c":6620.2,"o":6615.9,"l":6613.8},{"t":809,"d":"u","h":6623.4,"c":6621.3,"o":6618.1,"l":6617.0},{"t":812,"d":"u","h":6625.5,"c":6623.4,"o":6620.2,"l":6619.1},{"t":816,"d":"d","h":6624.9,"o":6623.8,"c":6622.3,"l":6620.2},{"t":820,"d":"u","h":6625.5,"c":6624.0,"o":6622.8,"l":6621.3},{"t":824,"d":"u","h":6627.0,"c":6625.5,"o":6623.4,"l":6622.8},{"t":828,"d":"u","h":6628.3,"c":6626.6,"o":6624.0,"l":6623.4},{"t":832,"d":"d","h":6627.3,"o":6625.5,"c":6622.8,"l":6620.2},{"t":836,"d":"d","h":6626.6,"o":6624.5,"c":6622.8,"l":6621.3},{"t":840,"d":"u","h":6626.6,"c":6624.9,"o":6622.8,"l":6621.9},{"t":844,"d":"u","h":6627.0,"c":6625.9,"o":6623.8,"l":6622.8},{"t":848,"d":"u","h":6627.0,"c":6626.2,"o":6624.5,"l":6624.0},{"t":852,"d":"d","h":6627.0,"o":6625.9,"c":6622.3,"l":6620.8},{"t":855,"d":"d","h":6625.1,"o":6624.0,"c":6620.8,"l":6619.1},{"t":858,"d":"d","h":6623.4,"o":6622.3,"c":6619.8,"l":6618.5},{"t":862,"d":"d","h":6622.3,"o":6621.3,"c":6619.1,"l":6617.4},{"t":865,"d":"u","h":6623.4,"c":6622.3,"o":6620.6,"l":6619.8},{"t":868,"d":"u","h":6623.4,"c":6622.3,"o":6620.8,"l":6620.2},{"t":871,"d":"d","h":6622.3,"o":6621.9,"c":6619.1,"l":6617.0},{"t":874,"d":"d","h":6621.9,"o":6621.3,"c":6618.1,"l":6615.9},{"t":877,"d":"d","h":6620.2,"o":6619.1,"c":6616.3,"l":6614.8},{"t":879,"d":"d","h":6618.1,"o":6617.0,"c":6615.9,"l":6614.4},{"t":881,"d":"u","h":6622.3,"c":6621.3,"o":6617.0,"l":6615.9},{"t":884,"d":"u","h":6626.6,"c":6625.5,"o":6621.3,"l":6619.1},{"t":887,"d":"u","h":6627.7,"c":6626.6,"o":6624.0,"l":6622.8},{"t":889,"d":"u","h":6628.6,"c":6627.3,"o":6624.9,"l":6624.0}]
},
"layer":[
{"data":{"name":"mask"},"mark":{"type":"rect","color":"white"},"encoding":{"x":{"field":"a","type":"quantitative","scale":{"domain":[0,1297],"nice":false,"zero":false,"padding":0},"axis":null},"x2":{"field":"b"},"y":{"field":"p","type":"quantitative","scale":{"domain":[6522.47,6648.03],"nice":false,"zero":false},"axis":{"orient":"right","offset":-45,"values":[6540,6560,6580,6600,6620,6640],"format":".1f","title":null,"domain":false,"ticks":false,"labelPadding":0,"labelFont":"Liberation Sans","labelFontSize":12,"labelColor":"#333333","grid":true,"gridColor":"#eeeeee","gridWidth":1}},"y2":{"field":"q"}}},
{"data":{"name":"vgrid"},"mark":{"type":"rule","color":"#eeeeee","strokeWidth":1},"encoding":{"x":{"field":"t","type":"quantitative"},"y":{"datum":6639.5,"type":"quantitative"},"y2":{"datum":6525.7}}},
{"data":{"name":"band"},"mark":{"type":"area","color":"#fef9f1","interpolate":"monotone"},"encoding":{"x":{"field":"t","type":"quantitative"},"y":{"field":"u","type":"quantitative"},"y2":{"field":"l"}}},
{"data":{"values":[{"v":6635.2}]},"mark":{"type":"rule","color":"#ee4444","strokeWidth":1.3,"strokeDash":[8,8]},"encoding":{"y":{"field":"v","type":"quantitative"}}},
{"data":{"values":[{"v":6529.5}]},"mark":{"type":"rule","color":"#444444","strokeWidth":1.2,"strokeDash":[8,8]},"encoding":{"y":{"field":"v","type":"quantitative"}}},
{"data":{"values":[{"v":6557.9}]},"mark":{"type":"rule","color":"#5f5a70","strokeWidth":2,"strokeDash":[8,4]},"encoding":{"y":{"field":"v","type":"quantitative"}}},
{"data":{"values":[{"a":0,"b":1241,"v":6626.8}]},"mark":{"type":"rule","color":"#98a0b0","strokeWidth":1.2},"encoding":{"x":{"field":"a","type":"quantitative"},"x2":{"field":"b"},"y":{"field":"v","type":"quantitative"}}},
{"data":{"name":"candles"},"mark":{"type":"rule","strokeWidth":1.4},"encoding":{"x":{"field":"t","type":"quantitative"},"y":{"field":"h","type":"quantitative"},"y2":{"field":"l"},"color":{"field":"d","type":"nominal","legend":null,"scale":{"domain":["u","d"],"range":["#3aa53a","#e21b1b"]}}}},
{"data":{"name":"candles"},"mark":{"type":"bar","size":4.4},"encoding":{"x":{"field":"t","type":"quantitative"},"y":{"field":"o","type":"quantitative"},"y2":{"field":"c"},"color":{"field":"d","type":"nominal","legend":null,"scale":{"domain":["u","d"],"range":["#3aa53a","#e21b1b"]}}}},
{"data":{"name":"band"},"mark":{"type":"line","color":"#f5a623","strokeWidth":1.2,"interpolate":"monotone"},"encoding":{"x":{"field":"t","type":"quantitative"},"y":{"field":"u","type":"quantitative"}}},
{"data":{"name":"band"},"mark":{"type":"line","color":"#f5a623","strokeWidth":1.2,"interpolate":"monotone"},"encoding":{"x":{"field":"t","type":"quantitative"},"y":{"field":"l","type":"quantitative"}}},
{"data":{"name":"mid"},"mark":{"type":"line","color":"#f5a623","strokeWidth":1.2,"interpolate":"monotone"},"encoding":{"x":{"field":"t","type":"quantitative"},"y":{"field":"v","type":"quantitative"}}},
{"data":{"name":"sarRed"},"mark":{"type":"square","color":"#e5414e","size":20,"opacity":0.85},"encoding":{"x":{"field":"t","type":"quantitative"},"y":{"field":"v","type":"quantitative"}}},
{"data":{"name":"sarGreen"},"mark":{"type":"square","color":"#5fb563","size":20,"opacity":0.85},"encoding":{"x":{"field":"t","type":"quantitative"},"y":{"field":"v","type":"quantitative"}}},
{"data":{"name":"black"},"mark":{"type":"line","color":"#222222","strokeWidth":2,"interpolate":"monotone"},"encoding":{"x":{"field":"t","type":"quantitative"},"y":{"field":"v","type":"quantitative"}}},
{"data":{"name":"blue"},"mark":{"type":"line","color":"#2a5a86","strokeWidth":1.8,"interpolate":"monotone"},"encoding":{"x":{"field":"t","type":"quantitative"},"y":{"field":"v","type":"quantitative"}}},
{"data":{"values":[{"t":1230,"v":6636.9,"s":"R1"}]},"mark":{"type":"text","color":"#e8885a","font":"Liberation Sans","fontSize":11},"encoding":{"x":{"field":"t","type":"quantitative"},"y":{"field":"v","type":"quantitative"},"text":{"field":"s"}}},
{"data":{"values":[{"t":1230,"v":6530.8,"s":"Piv"}]},"mark":{"type":"text","color":"#8a7f80","font":"Liberation Sans","fontSize":11},"encoding":{"x":{"field":"t","type":"quantitative"},"y":{"field":"v","type":"quantitative"},"text":{"field":"s"}}},
{"data":{"values":[{"a":1248,"b":1295,"p":6629.0,"q":6624.4}]},"mark":{"type":"rect","color":"#48597a","cornerRadius":3},"encoding":{"x":{"field":"a","type":"quantitative"},"x2":{"field":"b"},"y":{"field":"p","type":"quantitative"},"y2":{"field":"q"}}},
{"data":{"values":[{"t":1271.5,"v":6626.7,"s":"6626.8"}]},"mark":{"type":"text","color":"white","font":"Liberation Sans","fontSize":12},"encoding":{"x":{"field":"t","type":"quantitative"},"y":{"field":"v","type":"quantitative"},"text":{"field":"s"}}},
{"data":{"values":[{"t":513,"v":6640.3,"s":"11h45"}]},"mark":{"type":"text","color":"#8c8c8c","font":"Liberation Sans","fontSize":38},"encoding":{"x":{"field":"t","type":"quantitative"},"y":{"field":"v","type":"quantitative"},"text":{"field":"s"}}},
{"data":{"values":[{"t":125,"v":6526.5,"s":"9h"}]},"mark":{"type":"text","color":"#8c8c8c","font":"Liberation Sans","fontSize":38},"encoding":{"x":{"field":"t","type":"quantitative"},"y":{"field":"v","type":"quantitative"},"text":{"field":"s"}}}
]}
